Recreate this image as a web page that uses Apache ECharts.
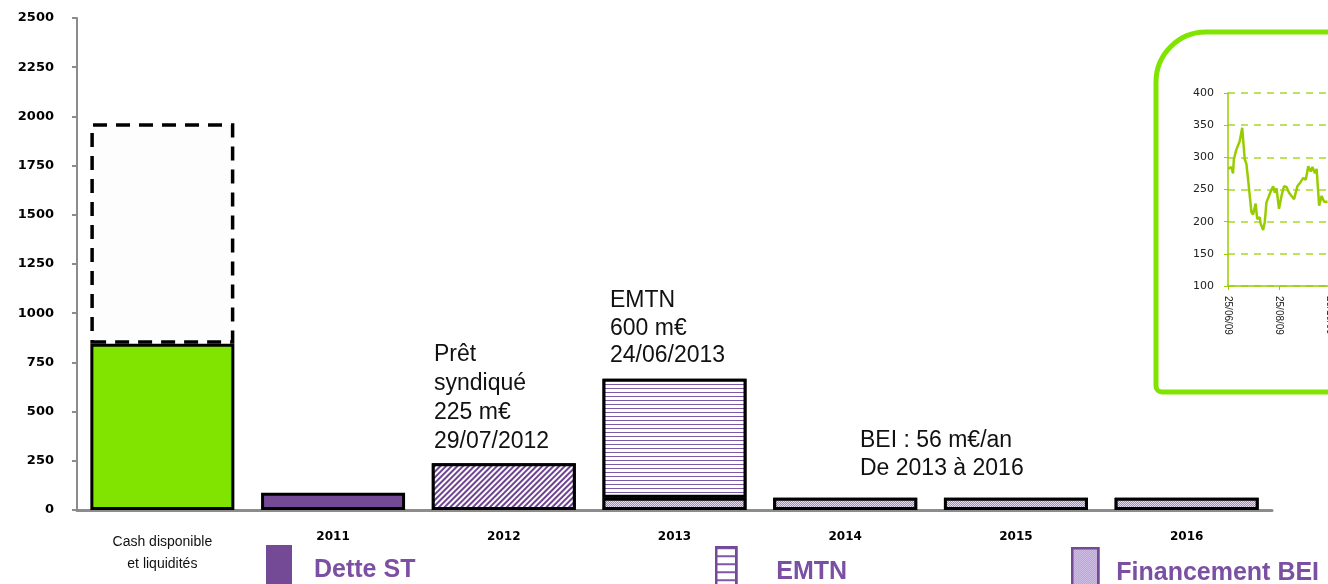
<!DOCTYPE html>
<html>
<head>
<meta charset="utf-8">
<script src="https://cdn.jsdelivr.net/npm/echarts@6/dist/echarts.min.js"></script>
<style>
  html, body { margin: 0; padding: 0; background: #fff; }
  #chart { width: 1328px; height: 584px; }
</style>
</head>
<body>
<div id="chart"></div>
<script>
// main chart data
const categories = ['Cash disponible\net liquidités', '2011', '2012', '2013', '2014', '2015', '2016']
const cashLiquidites = [845, '-', '-', '-', '-', '-', '-']
const cashReste = [1120, '-', '-', '-', '-', '-', '-']
const detteST = ['-', 88, '-', '-', '-', '-', '-']
const pretSyndique = ['-', '-', 238, '-', '-', '-', '-']
const financementBEI = ['-', '-', '-', 62, 62, 62, 62]
const emtn = ['-', '-', '-', 605, '-', '-', '-']

// inset (share price) data
const insetDays = [0, 4, 6, 7, 10, 14, 17, 20, 22, 24, 28, 30, 33, 35, 38, 39, 42, 44, 46, 49, 52, 54,
  56, 58, 61, 64, 67, 70, 73, 75, 79, 83, 86, 90, 93, 96, 99, 101, 104, 106, 109, 112, 115, 119]
const insetPrice = [282, 285, 275, 297, 312, 325, 346, 297, 290, 266, 215, 211, 228, 204, 207, 197, 187, 200,
  230, 240, 250, 255, 245, 252, 220, 240, 255, 254, 245, 245, 235, 255, 260, 268, 265, 286, 278, 285,
  275, 282, 225, 240, 231, 231]
const insetDateLabels = ['25/06/09', '25/08/09', '25/10/09', '25/12/09', '25/02/10', '25/04/10']

const purple = '#744a97'
const legendPurple = '#7b50a3'
const border = { borderColor: '#000', borderWidth: 3 }

const decalDiag = { symbol: 'rect', symbolSize: 1, dashArrayX: [1, 0], dashArrayY: [2, 2], rotation: -Math.PI / 4, color: '#6e4392', backgroundColor: '#fff' }
const decalHoriz = { symbol: 'rect', symbolSize: 1, dashArrayX: [1, 0], dashArrayY: [1, 3], rotation: 0, color: '#7d5aa6', backgroundColor: '#fff' }
const decalDots = { symbol: 'rect', symbolSize: 1, dashArrayX: [[1, 1], [0, 1, 1, 0]], dashArrayY: [1, 0], rotation: 0, color: '#a58ac8', backgroundColor: '#e4daf0' }

const legendText = { color: legendPurple, fontSize: 25, fontWeight: 'bold', fontFamily: 'Liberation Sans' }
const noteFont = '23px "Liberation Sans"'

const chart = echarts.init(document.getElementById('chart'))
chart.setOption({
  backgroundColor: '#fff',
  animation: false,
  grid: [
    { left: 77, right: 56, top: 18, bottom: 74, outerBoundsMode: 'none' },
    { left: 1228, top: 93, height: 193, width: 255, outerBoundsMode: 'none' }
  ],
  legend: [
    {
      data: ['Dette ST'], left: 266, top: 545, padding: 0, icon: 'rect', itemWidth: 26, itemHeight: 50, selectedMode: false,
      itemStyle: { borderWidth: 0 },
      textStyle: Object.assign({ padding: [0, 0, 0, 17] }, legendText)
    },
    {
      data: ['EMTN'], left: 715, top: 546, padding: 0, icon: 'rect', itemWidth: 20, itemHeight: 50, selectedMode: false,
      itemStyle: { borderColor: purple, borderWidth: 2.5, decal: { symbol: 'rect', symbolSize: 1, dashArrayX: [1, 0], dashArrayY: [2, 6], color: '#7d5aa6', backgroundColor: '#fff' } },
      textStyle: Object.assign({ padding: [0, 0, 0, 35] }, legendText)
    },
    {
      data: ['Financement BEI'], left: 1071, top: 547, padding: 0, icon: 'rect', itemWidth: 26, itemHeight: 50, selectedMode: false,
      itemStyle: { borderColor: purple, borderWidth: 2.5 },
      textStyle: Object.assign({ padding: [0, 0, 20, 13] }, legendText)
    }
  ],
  xAxis: [
    {
      type: 'category',
      gridIndex: 0,
      data: categories.map((c, i) => i === 0
        ? { value: c, textStyle: { fontSize: 14, fontWeight: 'normal', fontFamily: 'Liberation Sans', lineHeight: 22, color: '#111' } }
        : c),
      axisLine: { lineStyle: { color: '#8c8c8c', width: 3 } },
      axisTick: { show: false },
      axisLabel: { interval: 0, margin: 21, color: '#000', fontSize: 12, fontWeight: 'bold', fontFamily: 'DejaVu Sans' }
    },
    {
      type: 'value',
      gridIndex: 1,
      min: 0,
      max: 305,
      interval: 61,
      splitLine: { show: false },
      axisLine: { lineStyle: { color: '#99cc00', width: 1.5 } },
      axisTick: { show: true, length: 4, lineStyle: { color: '#99cc00' } },
      axisLabel: {
        rotate: -90, margin: 10, color: '#222', fontSize: 10, fontFamily: 'Liberation Sans',
        formatter: (v) => insetDateLabels[Math.round(v / 61)] || ''
      }
    }
  ],
  yAxis: [
    {
      type: 'value',
      gridIndex: 0,
      min: 0,
      max: 2500,
      interval: 250,
      splitLine: { show: false },
      axisLine: { show: true, lineStyle: { color: '#8c8c8c', width: 2 } },
      axisTick: { show: true, length: 5, lineStyle: { color: '#8c8c8c', width: 2 } },
      axisLabel: { margin: 23, color: '#000', fontSize: 13, fontWeight: 'bold', fontFamily: 'DejaVu Sans', formatter: (v) => String(v) }
    },
    {
      type: 'value',
      gridIndex: 1,
      min: 100,
      max: 400,
      interval: 50,
      splitLine: { show: true, lineStyle: { color: '#aad82a', width: 1.5, type: [7, 6] } },
      axisLine: { show: true, lineStyle: { color: '#99cc00', width: 1.5 } },
      axisTick: { show: true, length: 4, lineStyle: { color: '#99cc00' } },
      axisLabel: { margin: 14, color: '#222', fontSize: 11, fontFamily: 'DejaVu Sans' }
    }
  ],
  graphic: [
    {
      type: 'rect',
      shape: { x: 1156, y: 32, width: 400, height: 360, r: [50, 0, 0, 6] },
      style: { fill: 'transparent', stroke: '#80e400', lineWidth: 5 },
      z: 0
    },
    {
      type: 'text', x: 434, y: 340,
      style: { text: 'Prêt\nsyndiqué\n225 m€\n29/07/2012', fill: '#111', font: noteFont, lineHeight: 29 }
    },
    {
      type: 'text', x: 610, y: 287,
      style: { text: 'EMTN\n600 m€\n24/06/2013', fill: '#111', font: noteFont, lineHeight: 27.5 }
    },
    {
      type: 'text', x: 860, y: 427,
      style: { text: 'BEI : 56 m€/an\nDe 2013 à 2016', fill: '#111', font: noteFont, lineHeight: 28 }
    }
  ],
  series: [
    {
      name: 'Cash', type: 'bar', stack: 'total', barWidth: 144, data: cashLiquidites,
      itemStyle: Object.assign({ color: '#80e400' }, border)
    },
    {
      name: 'Cash total', type: 'bar', stack: 'total', barWidth: 144, data: cashReste,
      itemStyle: { color: '#fdfdfd', borderColor: '#000', borderWidth: 3.5, borderType: [14, 9] }
    },
    {
      name: 'Dette ST', type: 'bar', stack: 'total', barWidth: 144, data: detteST,
      itemStyle: Object.assign({ color: purple }, border)
    },
    {
      name: 'Prêt syndiqué', type: 'bar', stack: 'total', barWidth: 144, data: pretSyndique,
      itemStyle: Object.assign({ color: '#fff', decal: decalDiag }, border)
    },
    {
      name: 'Financement BEI', type: 'bar', stack: 'total', barWidth: 144, data: financementBEI,
      itemStyle: Object.assign({ color: '#e4daf0', decal: decalDots }, border)
    },
    {
      name: 'EMTN', type: 'bar', stack: 'total', barWidth: 144, data: emtn,
      itemStyle: Object.assign({ color: '#fff', decal: decalHoriz }, border)
    },
    {
      name: 'Cours', type: 'line', xAxisIndex: 1, yAxisIndex: 1,
      data: insetDays.map((d, i) => [d, insetPrice[i]]),
      showSymbol: false,
      lineStyle: { color: '#99cc00', width: 2.5 },
      itemStyle: { color: '#99cc00' }
    }
  ]
})
</script>
</body>
</html>
